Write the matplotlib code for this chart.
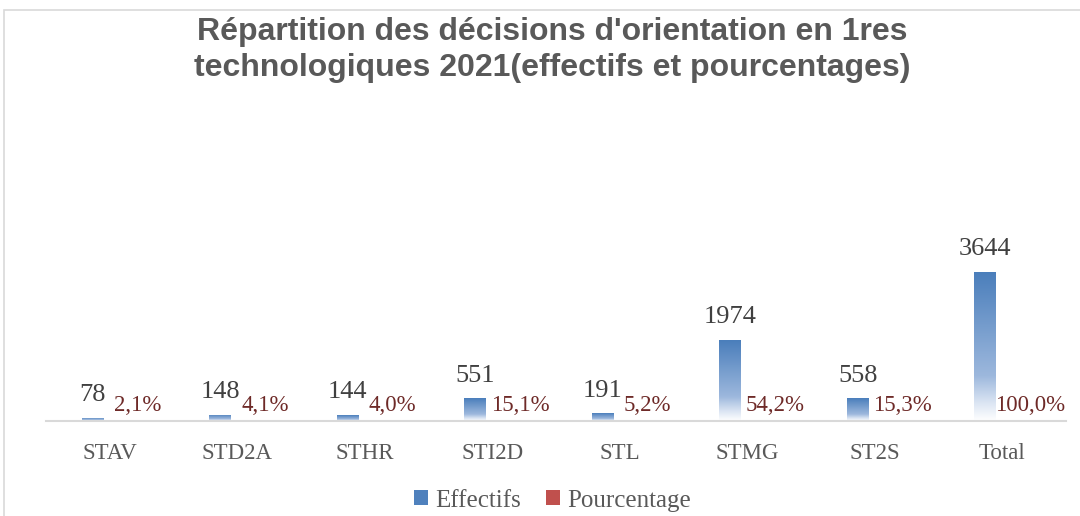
import matplotlib
matplotlib.use("Agg")
import matplotlib.pyplot as plt
import numpy as np
from matplotlib.colors import LinearSegmentedColormap
from matplotlib.patches import Patch, Rectangle

# données
filieres = ['STAV', 'STD2A', 'STHR', 'STI2D', 'STL', 'STMG', 'ST2S', 'Total']
effectifs = [78, 148, 144, 551, 191, 1974, 558, 3644]
pourcentages = [2.1, 4.1, 4.0, 15.1, 5.2, 54.2, 15.3, 100.0]

titre = "Répartition des décisions d'orientation en 1res\ntechnologiques 2021(effectifs et pourcentages)"

gris = '#595959'
bleu_deg = LinearSegmentedColormap.from_list(
    'bleu', [(0, '#ffffff'), (0.12, '#dbe5f3'), (0.3, '#9db8dd'), (1, '#4a7ebb')])

fig = plt.figure(figsize=(10.8, 5.16), dpi=100)
ax = fig.add_axes([0.0426, 0.184, 0.9444, 0.62])

x = np.arange(len(filieres))
larg = 0.172
dec = 0.133

barres = ax.bar(x - dec, effectifs, larg, facecolor='none', edgecolor='none')
ax.bar(x + dec, pourcentages, larg, facecolor='none', edgecolor='none')

# dégradé dans chaque barre
grad = np.linspace(1, 0, 256).reshape(-1, 1)
for b in barres:
    x0, y0 = b.get_x(), b.get_y()
    w, h = b.get_width(), b.get_height()
    im = ax.imshow(grad, extent=[x0, x0 + w, y0, y0 + h], aspect='auto',
                   cmap=bleu_deg, vmin=0, vmax=1, zorder=2)
    im.set_clip_path(b)
ax.set_xlim(-0.5, len(filieres) - 0.5)
ax.set_ylim(0, 7800)
ax.set_aspect('auto')

for i, (e, p) in enumerate(zip(effectifs, pourcentages)):
    ax.annotate(str(e), (i - dec, e), xytext=(0, 12), textcoords='offset points',
                ha='center', va='baseline', fontsize=19, color='#404040',
                family='Liberation Serif')
    ax.annotate(f"{p:.1f}%".replace('.', ','), (i + 0.22, 0), xytext=(0, 7),
                textcoords='offset points', ha='center', va='baseline',
                fontsize=16.5, color='#6e2a28', family='Liberation Serif')

for s in ['top', 'right', 'left']:
    ax.spines[s].set_visible(False)
ax.spines['bottom'].set_color('#d9d9d9')
ax.spines['bottom'].set_linewidth(1.5)
ax.set_yticks([])
ax.set_xticks(x)
ax.set_xticklabels(filieres, fontsize=16.5, color=gris, family='Liberation Serif')
ax.tick_params(axis='x', length=0, pad=16)

fig.text(0.511, 0.903, titre, ha='center', va='center', fontsize=23,
         fontweight='bold', color=gris, family='Liberation Sans', linespacing=1.28)

poignees = [Patch(facecolor='#4f81bd'), Patch(facecolor='#c0504d')]
fig.legend(poignees, ['Effectifs', 'Pourcentage'], loc='center', bbox_to_anchor=(0.512, 0.03),
           ncol=2, frameon=False, handlelength=0.55, handleheight=0.55, handletextpad=0.3,
           columnspacing=1.0, prop={'family': 'Liberation Serif', 'size': 18},
           labelcolor=gris)

# cadre du graphique
fig.patches.append(Rectangle((4 / 1080, -0.1), 1.2, 1.1 - 10 / 516, transform=fig.transFigure,
                             fill=False, edgecolor='#d9d9d9', linewidth=1.2))

fig.savefig('out.png', dpi=100)
